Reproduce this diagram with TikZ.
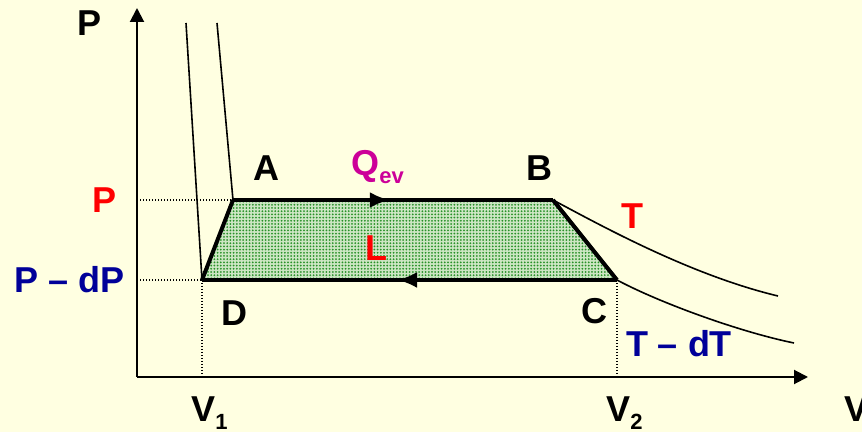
\documentclass[tikz,border=0pt]{standalone}
\usepackage{fontspec}
\setmainfont{Liberation Sans}
\usetikzlibrary{arrows.meta,decorations.markings,patterns.meta}
\definecolor{bgyellow}{RGB}{255,255,225}
\definecolor{qmag}{RGB}{204,0,153}
\definecolor{dblue}{RGB}{0,0,153}
\definecolor{dotgreen}{RGB}{40,145,40}
\definecolor{palegreen}{RGB}{205,230,195}
\newcommand{\sub}[1]{\raisebox{-4pt}{\fontsize{11}{12}\selectfont #1}}

\begin{document}
\begin{tikzpicture}[
  x=0.5pt, y=-0.5pt, font=\fontsize{18}{20}\selectfont\bfseries,
  axis/.style={line width=1pt, -{Triangle[length=7pt,width=7pt]}},
  iso/.style={line width=0.8pt},
  guide/.style={line width=0.6pt, dash pattern=on 0.6pt off 0.9pt},
  cyc/.style={line width=2pt, line join=round},
  midarr/.style={postaction={decorate, decoration={markings,
    mark=at position #1 with {\arrow{Latex[length=10pt,width=8pt]}}}}},
  lbl/.style={inner sep=0pt}
]
  \fill[bgyellow] (0,0) rectangle (862,432);
  \useasboundingbox (0,0) rectangle (862,432);

  % axes and cycle corners
  \coordinate (O) at (137,377);
  \coordinate (ytip) at (137,8);
  \coordinate (xtip) at (808,377);
  \coordinate (A) at (233,200);
  \coordinate (B) at (553,200);
  \coordinate (C) at (617,280);
  \coordinate (D) at (202,280);
  \coordinate (Pa) at (137,200);
  \coordinate (Pd) at (137,280);
  \coordinate (V1) at (202,377);
  \coordinate (V2) at (617,377);
  \coordinate (Ttop) at (217,23);
  \coordinate (Tdtop) at (186,23);
  \coordinate (Tend) at (778,296);
  \coordinate (Tdend) at (794,343);

  % shaded work area
  \fill[palegreen] (A) -- (B) -- (C) -- (D) -- cycle;
  \fill[pattern={Dots[distance=1.6pt,radius=0.5pt]}, pattern color=dotgreen]
    (A) -- (B) -- (C) -- (D) -- cycle;

  \draw[guide] (Pa) -- (A);
  \draw[guide] (Pd) -- (D);
  \draw[guide] (D) -- (V1);
  \draw[guide] (C) -- (V2);

  % isotherms
  \draw[iso] (Ttop) -- (A);
  \draw[iso] (Tdtop) -- (D);
  \draw[iso] (B) .. controls (600,225) and (690,275) .. (Tend);
  \draw[iso] (C) .. controls (660,303) and (740,332) .. (Tdend);

  \draw[axis] (O) -- (ytip);
  \draw[axis] (O) -- (xtip);

  \draw[cyc, midarr=0.49] (A) -- (B);
  \draw[cyc] (B) -- (C);
  \draw[cyc, midarr=0.53] (C) -- (D);
  \draw[cyc] (D) -- (A);

  \node[lbl] (lp) at (90,23) {P};
  \node[lbl] (la) at (266,168) {A};
  \node[lbl] (lb) at (539,168) {B};
  \node[lbl] (lc) at (594,311) {C};
  \node[lbl] (ld) at (234,313) {D};
  \node[lbl, text=qmag, anchor=base west] (lq) at (351,176) {Q\sub{ev}};
  \node[lbl, text=red] (ll) at (376,248) {L};
  \node[lbl, text=red] (lt) at (632,216) {T};
  \node[lbl, text=dblue] (ltd) at (679,344) {T – dT};
  \node[lbl, text=red] (lpa) at (105,200) {P};
  \node[lbl, text=dblue] (lpd) at (70,280) {P – dP};
  \node[lbl, anchor=base west] (lv1) at (191,422) {V\sub{1}};
  \node[lbl, anchor=base west] (lv2) at (606,422) {V\sub{2}};
  \node[lbl, anchor=base west] (lv) at (844,422) {V};
\end{tikzpicture}
\end{document}
